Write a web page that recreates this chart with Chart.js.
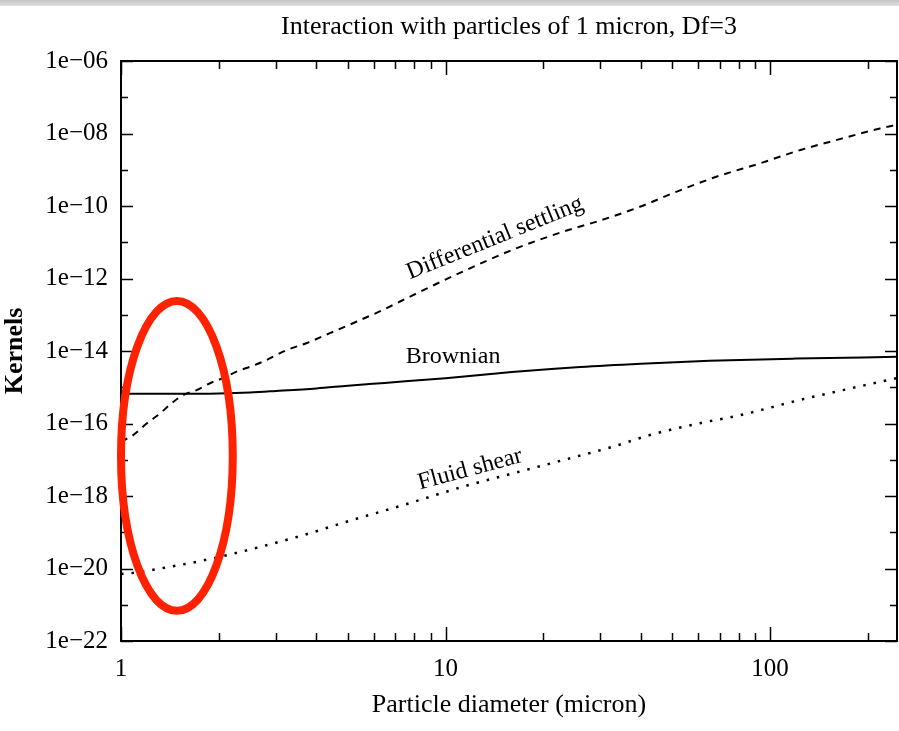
<!DOCTYPE html>
<html><head><meta charset="utf-8">
<script src="https://cdn.jsdelivr.net/npm/chart.js@4.4.0/dist/chart.umd.min.js"></script>
<style>html,body{margin:0;padding:0;background:#fff;overflow:hidden}#wrap{width:899px;height:731px}</style>
</head><body><div id="wrap"><canvas id="c" width="899" height="731"></canvas></div>
<script>
// ---- texts ----
const chartTitle = 'Interaction with particles of 1 micron, Df=3';
const xAxisTitle = 'Particle diameter (micron)';
const yAxisTitle = 'Kernels';

// ---- axes ----
const xMin = 1, xMax = 246;
const yMin = 1e-22, yMax = 1e-6;
const xMajorTicks = [1, 10, 100];
const xMinorTicks = [2, 3, 4, 5, 6, 7, 8, 9, 20, 30, 40, 50, 60, 70, 80, 90, 200];
const yMajorTicks = [1e-22, 1e-20, 1e-18, 1e-16, 1e-14, 1e-12, 1e-10, 1e-8, 1e-6];
const yMinorTicks = [1e-21, 1e-19, 1e-17, 1e-15, 1e-13, 1e-11, 1e-9, 1e-7];
const yTickLabels = ['1e\u221222', '1e\u221220', '1e\u221218', '1e\u221216', '1e\u221214', '1e\u221212', '1e\u221210', '1e\u221208', '1e\u221206'];

// ---- series ----
const brownianD = [1, 1.5, 2, 2.5, 3, 4, 5, 6.5, 10, 16, 26, 40, 65, 120, 246];
const brownianK = [6.6e-16, 6.6e-16, 6.76e-16, 7.2e-16, 7.9e-16, 9.3e-16, 1.1e-15, 1.32e-15, 1.78e-15, 2.63e-15, 3.63e-15, 4.47e-15, 5.37e-15, 6.17e-15, 6.9e-15];

const settlingD = [1.0, 1.09, 1.2, 1.32, 1.43, 1.56, 1.71, 1.88, 2.06, 2.27, 2.5, 2.74, 3.25, 3.74, 4.4, 5.33, 6.4, 7.95, 11.3, 16.1, 23, 30, 39.7, 51.6, 68.6, 93, 124, 165, 218, 246];
const settlingK = [3.16e-17, 4.8e-17, 1.0e-16, 1.9e-16, 3.6e-16, 6.2e-16, 8.3e-16, 1.29e-15, 1.78e-15, 2.7e-15, 3.7e-15, 5.1e-15, 1.07e-14, 1.66e-14, 3.1e-14, 6.5e-14, 1.35e-13, 3.5e-13, 1.55e-12, 6.2e-12, 1.95e-11, 4.0e-11, 9.5e-11, 2.5e-10, 6.5e-10, 1.5e-9, 3.5e-9, 7.1e-9, 1.38e-8, 1.74e-8];

const shearD = [1.0, 1.07, 1.42, 1.92, 2.55, 3.64, 5.18, 7.4, 11.3, 16.9, 24.2, 32.8, 42.6, 60.7, 81, 124, 177, 246];
const shearK = [7.1e-21, 7.4e-21, 1.12e-20, 1.9e-20, 3.5e-20, 8.3e-20, 2.2e-19, 5.6e-19, 1.8e-18, 4.7e-18, 1.1e-17, 2.3e-17, 4.8e-17, 1.02e-16, 1.7e-16, 4.5e-16, 9.3e-16, 1.78e-15];

// ---- curve labels (anchored in data coordinates) ----
const curveLabels = [
  {text: 'Differential settling', x: 14.2, y: 1.3e-11, angle: -22},
  {text: 'Brownian', x: 10.55, y: 6.8e-15, angle: 0},
  {text: 'Fluid shear', x: 11.9, y: 5.4e-18, angle: -15}
];
// highlighted region (red ellipse), bounding box in data coordinates
const highlight = {x0: 1.0, x1: 2.21, yTop: 2.4e-13, yBottom: 6.8e-22};

const FONT = "'Liberation Serif', 'Times New Roman', serif";

function pts(xs, ys) { return xs.map((x, i) => ({x: x, y: ys[i]})); }

const deco = {
  id: 'deco',
  beforeDraw(chart) {
    const ctx = chart.ctx;
    ctx.save();
    ctx.fillStyle = '#fff';
    ctx.fillRect(0, 0, chart.width, chart.height);
    const g = ctx.createLinearGradient(0, 0, 0, 7);
    g.addColorStop(0, '#c4c4c8');
    g.addColorStop(1, '#e4e4e6');
    ctx.fillStyle = g;
    ctx.fillRect(0, 0, chart.width, 6);
    ctx.restore();
  },
  afterDatasetsDraw(chart) {
    const ctx = chart.ctx, a = chart.chartArea;
    const xs = chart.scales.x, ys = chart.scales.y;
    ctx.save();
    ctx.strokeStyle = '#000';
    ctx.lineWidth = 1.5;
    ctx.beginPath();
    const tx = (v, len) => {
      const p = Math.round(xs.getPixelForValue(v)) + 0.5;
      ctx.moveTo(p, a.bottom); ctx.lineTo(p, a.bottom - len);
      ctx.moveTo(p, a.top); ctx.lineTo(p, a.top + len);
    };
    const ty = (v, len) => {
      const p = Math.round(ys.getPixelForValue(v)) + 0.5;
      ctx.moveTo(a.left, p); ctx.lineTo(a.left + len, p);
      ctx.moveTo(a.right, p); ctx.lineTo(a.right - len, p);
    };
    xMajorTicks.forEach(v => tx(v, 14));
    xMinorTicks.forEach(v => tx(v, 8));
    yMajorTicks.forEach(v => ty(v, 12));
    yMinorTicks.forEach(v => ty(v, 7));
    ctx.stroke();
    ctx.lineWidth = 2;
    ctx.strokeRect(a.left, a.top, a.right - a.left, a.bottom - a.top);

    // curve labels
    ctx.fillStyle = '#000';
    ctx.font = '24px ' + FONT;
    ctx.textAlign = 'center';
    ctx.textBaseline = 'middle';
    curveLabels.forEach(l => {
      ctx.save();
      ctx.translate(xs.getPixelForValue(l.x), ys.getPixelForValue(l.y));
      ctx.rotate(l.angle * Math.PI / 180);
      ctx.fillText(l.text, 0, 0);
      ctx.restore();
    });

    // red ellipse
    const x0 = xs.getPixelForValue(highlight.x0), x1 = xs.getPixelForValue(highlight.x1);
    const y0 = ys.getPixelForValue(highlight.yTop), y1 = ys.getPixelForValue(highlight.yBottom);
    ctx.beginPath();
    ctx.ellipse((x0 + x1) / 2, (y0 + y1) / 2, (x1 - x0) / 2, (y1 - y0) / 2, 0, 0, Math.PI * 2);
    ctx.strokeStyle = '#ff2200';
    ctx.lineWidth = 8;
    ctx.stroke();
    ctx.restore();
  }
};

new Chart(document.getElementById('c'), {
  type: 'line',
  data: {
    datasets: [
      {label: 'Brownian', data: pts(brownianD, brownianK), borderColor: '#000', borderWidth: 2, pointRadius: 0, fill: false, cubicInterpolationMode: 'monotone'},
      {label: 'Differential settling', data: pts(settlingD, settlingK), borderColor: '#000', borderWidth: 2, borderDash: [7, 6], pointRadius: 0, fill: false, cubicInterpolationMode: 'monotone'},
      {label: 'Fluid shear', data: pts(shearD, shearK), borderColor: '#000', borderWidth: 2.5, borderDash: [2.5, 8], pointRadius: 0, fill: false, cubicInterpolationMode: 'monotone'}
    ]
  },
  options: {
    responsive: false,
    animation: false,
    devicePixelRatio: 1,
    layout: {padding: {left: 0, right: 2, top: 0, bottom: 0}},
    plugins: {
      legend: {display: false},
      tooltip: {enabled: false},
      title: {display: true, text: chartTitle, fullSize: false, color: '#000',
              font: {family: FONT, size: 26, weight: 'normal'}, padding: {top: 12, bottom: 17.8}}
    },
    scales: {
      x: {
        type: 'logarithmic', position: 'bottom', min: xMin, max: xMax,
        grid: {display: false, drawTicks: false}, border: {display: false},
        afterBuildTicks: s => { s.ticks = xMajorTicks.map(v => ({value: v})); },
        afterFit: s => { s.height = 90; },
        ticks: {color: '#000', font: {family: FONT, size: 25}, padding: 13, autoSkip: false, maxRotation: 0,
                callback: (v, i) => String(xMajorTicks[i])},
        title: {display: true, text: xAxisTitle, color: '#000', font: {family: FONT, size: 26}, padding: {top: 0, bottom: 10}}
      },
      y: {
        type: 'logarithmic', position: 'left', min: yMin, max: yMax,
        grid: {display: false, drawTicks: false}, border: {display: false},
        afterBuildTicks: s => { s.ticks = yMajorTicks.map(v => ({value: v})); },
        afterFit: s => { s.width = 121; },
        ticks: {color: '#000', font: {family: FONT, size: 25}, padding: 13, autoSkip: false,
                callback: (v, i) => yTickLabels[i]},
        title: {display: true, text: yAxisTitle, color: '#000', font: {family: FONT, size: 26, weight: 'bold'}, padding: {top: 0, bottom: 0}}
      }
    }
  },
  plugins: [deco]
});
</script></body></html>
